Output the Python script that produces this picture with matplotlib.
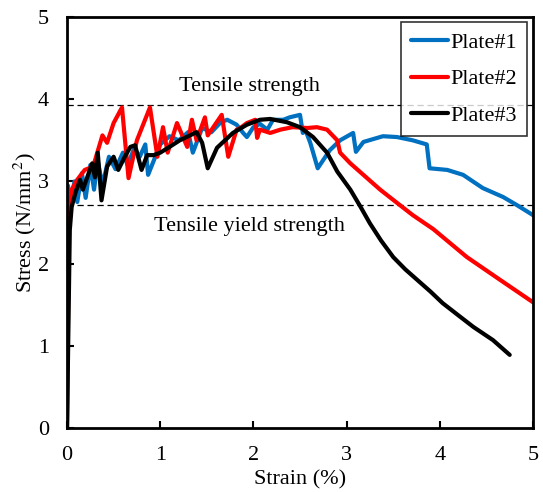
import matplotlib
matplotlib.use("Agg")
import matplotlib.pyplot as plt

plt.rcParams['font.family'] = ['Liberation Serif', 'DejaVu Serif']
plt.rcParams['mathtext.fontset'] = 'stix'

# Plate#1 (blue)
strain1 = [0.0, 0.01, 0.04, 0.08, 0.11, 0.16, 0.2, 0.25, 0.29, 0.33, 0.38, 0.45, 0.52, 0.6, 0.65,
           0.72, 0.78, 0.84, 0.87, 1.0, 1.1, 1.2, 1.3, 1.35, 1.45, 1.55, 1.65, 1.72, 1.82, 1.89,
           1.93, 2.0, 2.07, 2.15, 2.21, 2.32, 2.39, 2.5, 2.53, 2.56, 2.61, 2.69, 2.82, 2.93,
           3.07, 3.10, 3.18, 3.39, 3.54, 3.71, 3.86, 3.89, 4.08, 4.25, 4.46, 4.68, 4.83, 5.0]
stress1 = [0.0, 2.95, 2.72, 3.0, 2.75, 3.1, 2.8, 3.2, 2.9, 3.25, 2.95, 3.3, 3.15, 3.35, 3.2,
           3.4, 3.3, 3.45, 3.08, 3.45, 3.55, 3.5, 3.6, 3.35, 3.65, 3.6, 3.72, 3.75, 3.69, 3.59,
           3.54, 3.66, 3.7, 3.63, 3.75, 3.75, 3.78, 3.81, 3.59, 3.62, 3.47, 3.16, 3.38, 3.5,
           3.59, 3.36, 3.48, 3.55, 3.54, 3.5, 3.45, 3.16, 3.14, 3.08, 2.92, 2.81, 2.71, 2.59]

# Plate#2 (red)
strain2 = [0.0, 0.02, 0.05, 0.11, 0.19, 0.28, 0.38, 0.43, 0.5, 0.59, 0.66, 0.75, 0.89, 0.97,
           1.03, 1.08, 1.18, 1.29, 1.34, 1.39, 1.48, 1.51, 1.66, 1.73, 1.82, 1.86, 1.93, 2.02,
           2.04, 2.07, 2.18, 2.29, 2.42, 2.58, 2.68, 2.79, 2.9, 2.93, 3.04, 3.18, 3.36, 3.54,
           3.71, 3.93, 4.29, 4.65, 5.0]
stress2 = [0.0, 2.5, 2.9, 3.02, 3.14, 3.18, 3.56, 3.47, 3.71, 3.9, 3.04, 3.5, 3.9, 3.3,
           3.66, 3.35, 3.71, 3.42, 3.75, 3.5, 3.78, 3.56, 3.81, 3.3, 3.63, 3.65, 3.71, 3.75,
           3.53, 3.63, 3.59, 3.63, 3.66, 3.65, 3.66, 3.63, 3.5, 3.35, 3.22, 3.08, 2.9, 2.74,
           2.59, 2.42, 2.08, 1.8, 1.53]

# Plate#3 (black)
strain3 = [0.0, 0.03, 0.05, 0.09, 0.14, 0.17, 0.27, 0.30, 0.33, 0.37, 0.43, 0.5, 0.55, 0.62,
           0.68, 0.73, 0.8, 0.86, 0.93, 1.0, 1.1, 1.21, 1.32, 1.39, 1.45, 1.51, 1.61, 1.78,
           1.93, 2.07, 2.18, 2.36, 2.5, 2.64, 2.79, 2.9, 3.04, 3.15, 3.25, 3.37, 3.5, 3.63,
           3.76, 3.9, 4.03, 4.2, 4.36, 4.57, 4.75]
stress3 = [0.0, 2.41, 2.69, 2.86, 3.02, 2.9, 3.22, 3.05, 3.35, 2.77, 3.18, 3.3, 3.14, 3.3,
           3.42, 3.44, 3.14, 3.32, 3.32, 3.35, 3.42, 3.5, 3.56, 3.6, 3.47, 3.16, 3.41, 3.59,
           3.69, 3.75, 3.76, 3.72, 3.66, 3.54, 3.35, 3.12, 2.9, 2.69, 2.49, 2.28, 2.08, 1.93,
           1.8, 1.66, 1.52, 1.37, 1.23, 1.07, 0.89]

labels = ['Plate#1', 'Plate#2', 'Plate#3']
colors = ['#0070C0', '#FF0000', '#000000']
tensile_strength = 3.93
yield_strength = 2.71

fig = plt.figure(figsize=(5.43, 4.92), dpi=100)
ax = fig.add_axes([0.1234, 0.130, 0.8582, 0.8354])

ax.axhline(tensile_strength, color='black', lw=0.9, ls=(0, (5, 3)), zorder=1)
ax.axhline(yield_strength, color='black', lw=0.9, ls=(0, (5, 3)), zorder=1)

for xs, ys, lab, c in zip([strain1, strain2, strain3], [stress1, stress2, stress3], labels, colors):
    ax.plot(xs, ys, color=c, lw=3.0, label=lab, solid_joinstyle='round', solid_capstyle='round', zorder=2)

ax.text(1.96, 4.16, 'Tensile strength', ha='center', va='center', fontsize=16)
ax.text(1.96, 2.45, 'Tensile yield strength', ha='center', va='center', fontsize=16)

ax.set_xlim(0, 5)
ax.set_ylim(0, 5)
ax.set_xticks([0, 1, 2, 3, 4, 5])
ax.set_yticks([0, 1, 2, 3, 4, 5])
ax.tick_params(direction='in', length=5, width=1.5, labelsize=16, pad=13)
for s in ax.spines.values():
    s.set_linewidth(2.0)
ax.set_xlabel('Strain (%)', fontsize=16, labelpad=4)
ax.set_ylabel('Stress (N/mm$^2$)', fontsize=16, labelpad=0)

leg = ax.legend(loc='upper right', bbox_to_anchor=(0.987, 0.988), fontsize=16, frameon=True,
                fancybox=False, edgecolor='black', handlelength=1.65, handletextpad=0.1,
                labelspacing=0.73, borderaxespad=0, borderpad=0.45)
leg.get_frame().set_linewidth(1.2)
leg.set_zorder(5)

fig.savefig('out.png', dpi=100)
